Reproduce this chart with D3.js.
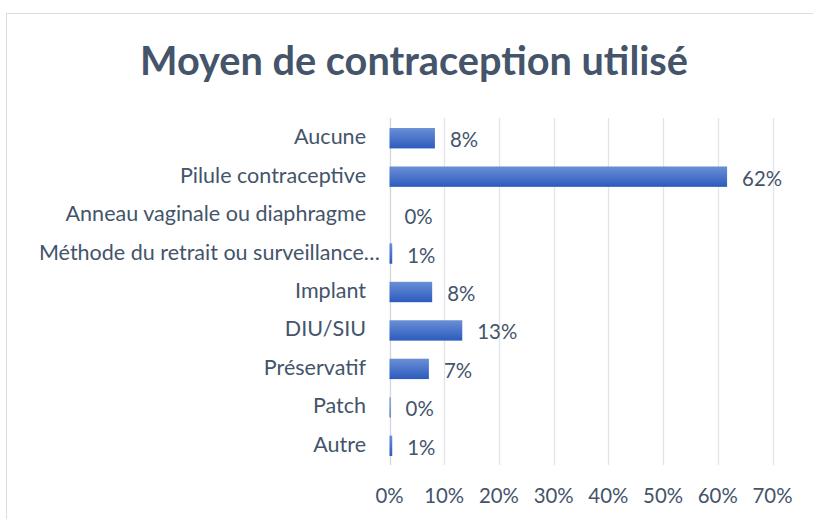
<!DOCTYPE html>
<html lang="fr">
<head>
<meta charset="UTF-8">
<title>Moyen de contraception utilisé</title>
<script src="https://d3js.org/d3.v7.min.js"></script>
<style>
  body { margin: 0; background: #fff; }
  text { font-family: Lato, "Open Sans", sans-serif; fill: #44546A; }
</style>
</head>
<body>
<svg width="813" height="519"></svg>
<script>
// data
var categories = ["Aucune", "Pilule contraceptive", "Anneau vaginale ou diaphragme",
  "Méthode du retrait ou surveillance…", "Implant", "DIU/SIU", "Préservatif", "Patch", "Autre"];
var values = [8.3, 61.7, 0, 0.5, 7.8, 13.3, 7.2, 0.2, 0.5];
var labels = ["8%", "62%", "0%", "1%", "8%", "13%", "7%", "0%", "1%"];
var ticks = [0, 10, 20, 30, 40, 50, 60, 70];

var svg = d3.select("svg");

// measure a string at 20px and return the size that gives the wanted width
function fitSize(str, w, weight) {
  var t = svg.append("text").style("font-size", "20px").style("font-weight", weight || "normal").text(str);
  var l = t.node().getComputedTextLength();
  t.remove();
  return 20 * w / l;
}
var fs = fitSize("Aucune", 72);
var fsTick = fitSize("70%", 40);

// chart frame
svg.append("rect")
  .attr("x", 6.5).attr("y", 13.5)
  .attr("width", 830).attr("height", 530)
  .attr("fill", "#fff")
  .attr("stroke", "#D9DEE5");

var defs = svg.append("defs");
var grad = defs.append("linearGradient").attr("id", "barGrad")
  .attr("x1", 0).attr("y1", 0).attr("x2", 0).attr("y2", 1);
grad.append("stop").attr("offset", "0%").attr("stop-color", "#6A8FD6");
grad.append("stop").attr("offset", "100%").attr("stop-color", "#2C5BBD");

// title
svg.append("text")
  .attr("x", 414).attr("y", 75)
  .attr("text-anchor", "middle")
  .style("font-weight", "bold")
  .style("font-size", fitSize("Moyen de contraception utilisé", 548, "bold") + "px")
  .text("Moyen de contraception utilisé");

var x = d3.scaleLinear().domain([0, 70]).range([389.5, 772.5]);
var y = d3.scaleBand().domain(categories).range([119, 465]).paddingInner(0.47).paddingOuter(0.235);

// grid
svg.append("g").selectAll("line").data(ticks).join("line")
  .attr("x1", d => Math.round(x(d)) + 0.5)
  .attr("x2", d => Math.round(x(d)) + 0.5)
  .attr("y1", 118).attr("y2", 465)
  .attr("stroke", d => d === 0 ? "#D0D6DE" : "#E1E5EB")
  .attr("stroke-width", 1.3);

// x tick labels
svg.append("g").selectAll("text").data(ticks).join("text")
  .attr("x", d => x(d))
  .attr("y", 503)
  .attr("text-anchor", "middle")
  .style("font-size", fsTick + "px")
  .text(d => d + "%");

// category labels
svg.append("g").selectAll("text").data(categories).join("text")
  .attr("x", d => d.endsWith("…") ? 380 : 366)
  .attr("y", d => y(d) + y.bandwidth() / 2 + 6)
  .attr("text-anchor", "end")
  .style("font-size", fs + "px")
  .text(d => d);

// bars
svg.append("g").selectAll("rect").data(values).join("rect")
  .attr("x", x(0))
  .attr("y", (d, i) => y(categories[i]))
  .attr("width", d => x(d) - x(0))
  .attr("height", y.bandwidth())
  .attr("fill", "url(#barGrad)");

// value labels
svg.append("g").selectAll("text").data(values).join("text")
  .attr("x", d => x(d) + 15)
  .attr("y", (d, i) => y(categories[i]) + y.bandwidth() / 2 + 9)
  .style("font-size", fsTick + "px")
  .text((d, i) => labels[i]);
</script>
</body>
</html>
